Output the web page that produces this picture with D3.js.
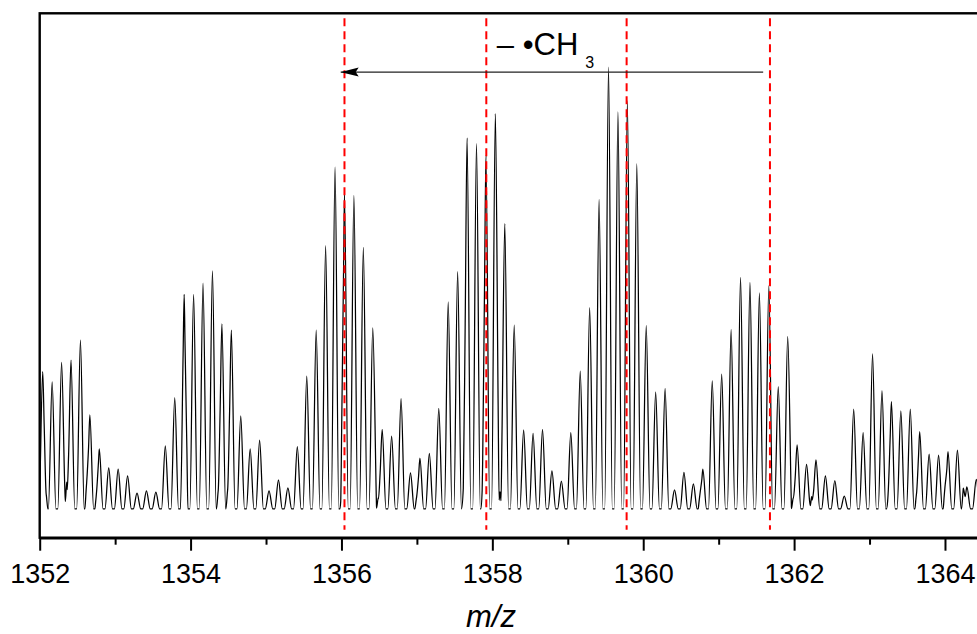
<!DOCTYPE html>
<html>
<head>
<meta charset="utf-8">
<script src="https://cdn.jsdelivr.net/npm/d3@7"></script>
<style>
  body { margin: 0; background: #fff; }
  svg { display: block; font-family: "Liberation Sans", Arial, sans-serif; }
</style>
</head>
<body>
<div id="container"></div>
<script>
// isotopic peaks (m/z, relative intensity)
const peakMz = [
  1352.040, 1352.165, 1352.290, 1352.415, 1352.540, 1352.665, 1352.790, 1352.915,
  1353.040, 1353.165, 1353.290, 1353.415, 1353.540, 1353.665, 1353.790, 1353.915,
  1354.040, 1354.165, 1354.290, 1354.415, 1354.540, 1354.665, 1354.790, 1354.915,
  1355.040, 1355.165, 1355.290, 1355.415, 1355.540, 1355.665, 1355.790, 1355.915,
  1356.040, 1356.165, 1356.290, 1356.415, 1356.540, 1356.665, 1356.790, 1356.915,
  1357.040, 1357.165, 1357.290, 1357.415, 1357.540, 1357.665, 1357.790, 1357.915,
  1358.040, 1358.165, 1358.290, 1358.415, 1358.540, 1358.665, 1358.790, 1358.915,
  1359.040, 1359.165, 1359.290, 1359.415, 1359.540, 1359.665, 1359.790, 1359.915,
  1360.040, 1360.165, 1360.290, 1360.415, 1360.540, 1360.665, 1360.790, 1360.915,
  1361.040, 1361.165, 1361.290, 1361.415, 1361.540, 1361.665, 1361.790, 1361.915,
  1362.040, 1362.165, 1362.290, 1362.415, 1362.540, 1362.665, 1362.790, 1362.915,
  1363.040, 1363.165, 1363.290, 1363.415, 1363.540, 1363.665, 1363.790, 1363.915,
  1364.040, 1364.165, 1364.290, 1364.415
];
const peakInt = [
  31.1, 28.8, 33.2, 33.7, 38.2, 21.3, 13.6, 9.3,
  9.0, 7.5, 3.6, 4.1, 3.8, 14.3, 25.2, 48.6,
  48.6, 51.1, 53.9, 41.9, 40.5, 21.1, 13.6, 15.6,
  4.1, 6.6, 4.8, 14.1, 30.1, 40.5, 59.6, 77.4,
  71.4, 71.0, 59.2, 41.0, 18.0, 16.5, 25.0, 8.2,
  11.5, 12.6, 22.8, 46.9, 53.7, 84.0, 82.7, 80.0,
  89.5, 64.6, 41.6, 17.9, 17.1, 18.0, 8.6, 6.3,
  17.3, 31.2, 45.6, 70.1, 100, 89.9, 92.4, 78.1,
  41.5, 26.5, 27.3, 4.3, 8.3, 5.7, 9.0, 29.0,
  30.5, 40.6, 52.4, 51.3, 48.9, 50.5, 27.7, 39.0,
  14.5, 10.1, 11.1, 7.5, 6.4, 2.9, 22.6, 17.3,
  35.1, 26.8, 24.3, 22.2, 22.6, 17.5, 12.4, 12.2,
  13.0, 13.3, 5.0, 6.7
];
// small side peaks near the baseline
const minorMz = [
  1352.084, 1352.358, 1352.623, 1352.756, 1353.926, 1354.367, 1354.492,
  1356.003, 1356.488, 1356.997, 1357.615, 1357.872, 1358.102, 1360.753,
  1361.989, 1362.233, 1363.249, 1363.625, 1364.000, 1364.243
];
const minorInt = [
  3.7, 6.1, 6.1, 3.7, 3.2, 4.3, 4.5,
  3.5, 2.5, 2.8, 4.7, 5.8, 3.9, 3.5,
  2.5, 2.8, 2.8, 3.9, 5.0, 4.7
];
// dashed markers at the cluster maxima
const markerMz = [1356.04, 1357.92, 1359.78, 1361.68];
const majorTicks = [1352, 1354, 1356, 1358, 1360, 1362, 1364];
const minorTicks = [1353, 1355, 1357, 1359, 1361, 1363];
const arrowFrom = 1361.59, arrowTo = 1355.99, arrowLevel = 98.9;
const lossText = "\u2013 \u2022CH", lossSub = "3";
const lossAt = [1358.06, 102.8];
const xTitle = "m/z";

const width = 977, height = 634;
const x = d3.scaleLinear().domain([1352, 1364.5]).range([39.7, 39.7 + 12.5 * 75.44]);
const y = d3.scaleLinear().domain([-6.5, 112.2]).range([537.7, 13.3]);
const [x0, x1] = x.range();
const [yb, yt] = y.range();

const svg = d3.select("#container").append("svg")
  .attr("width", width).attr("height", height);

svg.append("defs").append("clipPath").attr("id", "plot")
  .append("rect").attr("x", x0).attr("y", yt).attr("width", x1 - x0).attr("height", yb - yt);

const marker = svg.select("defs").append("marker")
  .attr("id", "head")
  .attr("viewBox", "0 -5 18 10")
  .attr("refX", 18).attr("refY", 0)
  .attr("markerWidth", 18).attr("markerHeight", 10)
  .attr("markerUnits", "userSpaceOnUse")
  .attr("orient", "auto");
marker.append("path").attr("d", "M0,-4.5L18,0L0,4.5L3,0Z").attr("fill", "#000");

// spectrum profile: every peak is a narrow spike, profile = highest spike at each break point
const sticks = peakMz.map((m, i) => ({ m: m, h: peakInt[i], w: 0.05 }))
  .concat(minorMz.map((m, i) => ({ m: m, h: minorInt[i], w: 0.025 })));
const profile = (m) => d3.max(sticks, (s) => s.h * Math.max(0, 1 - Math.abs(m - s.m) / s.w));
const breaks = [];
sticks.forEach((s) => breaks.push(s.m - s.w, s.m, s.m + s.w));
breaks.push(1351.9, 1364.6);
const pts = Array.from(new Set(breaks.map((b) => +b.toFixed(4))))
  .sort((a, b) => a - b)
  .map((m) => [m, profile(m)]);

const line = d3.line()
  .x((d) => x(d[0]))
  .y((d) => y(d[1]))
  .curve(d3.curveMonotoneX);

svg.append("path")
  .attr("clip-path", "url(#plot)")
  .attr("d", line(pts))
  .attr("fill", "none")
  .attr("stroke", "#000")
  .attr("stroke-width", 1.25);

svg.selectAll(".marker")
  .data(markerMz)
  .enter()
  .append("line")
  .attr("class", "marker")
  .attr("x1", (d) => x(d)).attr("x2", (d) => x(d))
  .attr("y1", yt + 5).attr("y2", yb - 8)
  .attr("stroke", "#ff0000")
  .attr("stroke-width", 2)
  .attr("stroke-dasharray", "8,5");

svg.append("line")
  .attr("x1", x(arrowFrom)).attr("x2", x(arrowTo))
  .attr("y1", y(arrowLevel)).attr("y2", y(arrowLevel))
  .attr("stroke", "#222")
  .attr("stroke-width", 1.2)
  .attr("marker-end", "url(#head)");

const label = svg.append("text")
  .attr("x", x(lossAt[0])).attr("y", y(lossAt[1]))
  .attr("font-size", 31).attr("fill", "#000");
label.append("tspan").text(lossText);
label.append("tspan").attr("dx", 7).attr("dy", 13).attr("font-size", 16).text(lossSub);

// frame
svg.append("rect")
  .attr("x", x0).attr("y", yt)
  .attr("width", x1 - x0).attr("height", yb - yt)
  .attr("fill", "none").attr("stroke", "#000").attr("stroke-width", 2.4);

const xAxis = d3.axisBottom(x).tickValues(majorTicks).tickSize(13).tickSizeOuter(0).tickFormat(d3.format("d"));
const gx = svg.append("g").attr("transform", `translate(0,${yb})`).call(xAxis);
gx.attr("font-size", 27).attr("font-family", null);
gx.select(".domain").attr("stroke-width", 2.5);
gx.selectAll(".tick line").attr("stroke-width", 2);
gx.selectAll(".tick text").attr("y", 45).attr("dy", 0).attr("fill", "#000");

const xMinor = d3.axisBottom(x).tickValues(minorTicks).tickSize(7).tickFormat("");
const gm = svg.append("g").attr("transform", `translate(0,${yb})`).call(xMinor);
gm.select(".domain").remove();
gm.selectAll(".tick line").attr("stroke-width", 2);

svg.append("text")
  .attr("x", 491).attr("y", 627)
  .attr("text-anchor", "middle")
  .attr("font-size", 31)
  .attr("font-style", "italic")
  .text(xTitle);
</script>
</body>
</html>
